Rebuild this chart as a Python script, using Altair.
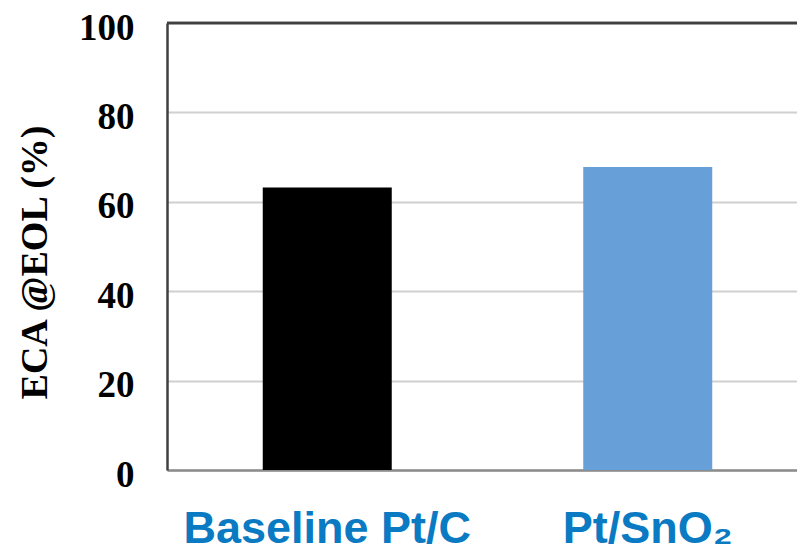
import altair as alt
import pandas as pd

categories = ["Baseline Pt/C", "Pt/SnO₂"]
values = [63.2, 67.8]
colors = ["#000000", "#679FD9"]
y_ticks = [0, 20, 40, 60, 80, 100]

df = pd.DataFrame({"cat": categories, "val": values, "color": colors})

bars = alt.Chart(df).mark_bar(size=129).encode(
    x=alt.X(
        "cat:N",
        sort=categories,
        scale=alt.Scale(paddingInner=0.6, paddingOuter=0.3, range=[0, 641]),
        axis=alt.Axis(
            title=None,
            labelAngle=0,
            labelFont="Liberation Sans",
            labelFontWeight="bold",
            labelFontSize=45,
            labelColor="#0A7AC3",
            labelBaseline="alphabetic",
            labelPadding=72,
            labelLimit=500,
            ticks=False,
            tickSize=0,
            domainColor="#8C8C8C",
            domainWidth=2.5,
        ),
    ),
    y=alt.Y(
        "val:Q",
        scale=alt.Scale(domain=[0, 100], nice=False),
        axis=alt.Axis(
            title="ECA @EOL (%)",
            values=y_ticks,
            labelFont="Liberation Serif",
            labelFontWeight="bold",
            labelFontSize=37,
            labelColor="#000000",
            labelPadding=33,
            labelOffset=5,
            ticks=False,
            tickSize=0,
            domainColor="#404040",
            domainWidth=2.5,
            gridColor="#D0D0D0",
            gridWidth=2,
            titleFont="Liberation Serif",
            titleFontWeight="bold",
            titleFontSize=38,
            titleColor="#000000",
            titleAngle=-90,
            titleAlign="center",
            titleBaseline="middle",
            titleX=-132,
            titleY=239,
        ),
    ),
    color=alt.Color("color:N", scale=None),
)

top = alt.Chart(df).mark_rule(color="#404040", strokeWidth=2.5).encode(
    y=alt.datum(100)
)

chart = alt.layer(bars, top).properties(
    width=630,
    height=447,
    autosize=alt.AutoSizeParams(type="none"),
    padding={"left": 159, "top": 15, "right": 0, "bottom": 82},
).configure_view(stroke=None).configure(background="#FFFFFF")

chart.save("out.html", embed_options={"renderer": "svg", "actions": False})
